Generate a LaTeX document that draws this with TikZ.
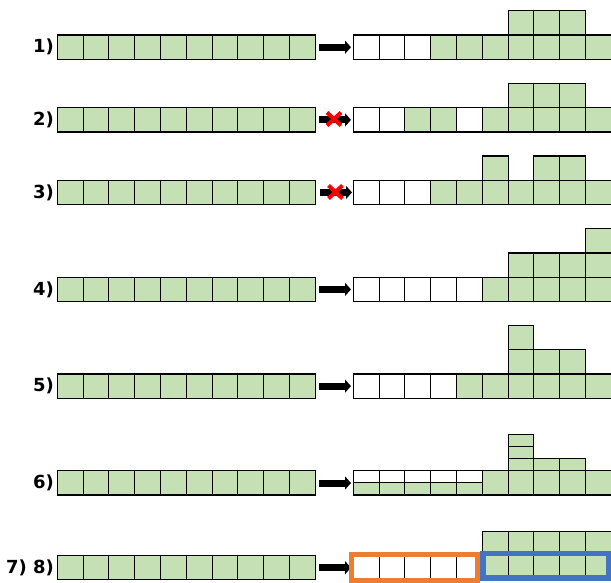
\documentclass[tikz,border=0pt]{standalone}
\usepackage{fontspec}
\newfontfamily\lblfont{DejaVu Sans}
\usetikzlibrary{arrows.meta}
\definecolor{cg}{HTML}{C5E0B4}
\definecolor{org}{HTML}{ED7D31}
\definecolor{blu}{HTML}{4472C4}
\definecolor{xred}{HTML}{FF0000}
\newcommand\Wc{25.8}
\newcommand\Hc{24.3}
% cell: x0, index, top, style
\newcommand\cellat[4]{\draw[#4] ({#1+#2*\Wc},{#3}) rectangle ++(\Wc,\Hc);}
% full left row at given top
\newcommand\leftrow[1]{\foreach \ii in {0,...,9} {\cellat{57.3}{\ii}{#1}{gcell}}}
% right row: top, list of styles
\newcommand\rightrow[2]{\foreach \ss [count=\ii from 0] in {#2} {\cellat{353.3}{\ii}{#1}{\ss}}}
\begin{document}
\begin{tikzpicture}[x=1pt,y=-1pt,
  cellbase/.style={draw=black,line width=1.1pt},
  gcell/.style={cellbase,fill=cg},
  wcell/.style={cellbase,fill=white},
  lbl/.style={font=\lblfont\bfseries\fontsize{18}{18}\selectfont,anchor=east,inner sep=0pt},
  blockarrow/.style={line width=7pt,-{Triangle[length=6pt,width=13pt]}},
  redx/.style={xred,line width=4pt}]
\useasboundingbox (0,0) rectangle (611,583);

% ---------- row 1 ----------
\leftrow{35}
\rightrow{35}{wcell,wcell,wcell,gcell,gcell,gcell,gcell,gcell,gcell,gcell}
\foreach \k in {6,7,8} {\cellat{353.3}{\k}{10.7}{gcell}}
\node[lbl] (lab1) at (54,47.2) {1)};
\coordinate (s1) at (319,47.2); \coordinate (e1) at (351,47.2);
\draw[blockarrow] (s1) -- (e1);

% ---------- row 2 ----------
\leftrow{107.7}
\rightrow{107.7}{wcell,wcell,gcell,gcell,wcell,gcell,gcell,gcell,gcell,gcell}
\foreach \k in {6,7,8} {\cellat{353.3}{\k}{83.4}{gcell}}
\node[lbl] (lab2) at (54,119.9) {2)};
\coordinate (s2) at (319,119.9); \coordinate (e2) at (351,119.9);
\draw[blockarrow] (s2) -- (e2);
\coordinate (x2) at (334,119);
\draw[redx] ([shift={(-7,-6.5)}]x2) -- ([shift={(7,6.5)}]x2);
\draw[redx] ([shift={(-7,6.5)}]x2) -- ([shift={(7,-6.5)}]x2);

% ---------- row 3 ----------
\leftrow{180.3}
\rightrow{180.3}{wcell,wcell,wcell,gcell,gcell,gcell,gcell,gcell,gcell,gcell}
\foreach \k in {5,7,8} {\cellat{353.3}{\k}{156}{gcell}}
\node[lbl] (lab3) at (54,192.4) {3)};
\coordinate (s3) at (320,192.4); \coordinate (e3) at (352,192.4);
\draw[blockarrow] (s3) -- (e3);
\coordinate (x3) at (335.5,192);
\draw[redx] ([shift={(-7,-6.5)}]x3) -- ([shift={(7,6.5)}]x3);
\draw[redx] ([shift={(-7,6.5)}]x3) -- ([shift={(7,-6.5)}]x3);

% ---------- row 4 ----------
\leftrow{277.3}
\rightrow{277.3}{wcell,wcell,wcell,wcell,wcell,gcell,gcell,gcell,gcell,gcell}
\foreach \k in {6,7,8,9} {\cellat{353.3}{\k}{253}{gcell}}
\cellat{353.3}{9}{228.7}{gcell}
\node[lbl] (lab4) at (54,289.4) {4)};
\coordinate (s4) at (319,289.4); \coordinate (e4) at (351,289.4);
\draw[blockarrow] (s4) -- (e4);

% ---------- row 5 ----------
\leftrow{374}
\rightrow{374}{wcell,wcell,wcell,wcell,gcell,gcell,gcell,gcell,gcell,gcell}
\foreach \k in {6,7,8} {\cellat{353.3}{\k}{349.7}{gcell}}
\cellat{353.3}{6}{325.4}{gcell}
\node[lbl] (lab5) at (54,386.1) {5)};
\coordinate (s5) at (319,386.1); \coordinate (e5) at (351,386.1);
\draw[blockarrow] (s5) -- (e5);

% ---------- row 6 ----------
\leftrow{470.7}
\foreach \k in {0,...,4} {
  \draw[wcell] ({353.3+\k*\Wc},470.7) rectangle ++(\Wc,12.15);
  \draw[gcell] ({353.3+\k*\Wc},482.85) rectangle ++(\Wc,12.15);
}
\foreach \k in {5,...,9} {\cellat{353.3}{\k}{470.7}{gcell}}
\foreach \k in {6,7,8} {\draw[gcell] ({353.3+\k*\Wc},458.55) rectangle ++(\Wc,12.15);}
\draw[gcell] ({353.3+6*\Wc},446.4) rectangle ++(\Wc,12.15);
\draw[gcell] ({353.3+6*\Wc},434.25) rectangle ++(\Wc,12.15);
\node[lbl] (lab6) at (54,483) {6)};
\coordinate (s6) at (319,483); \coordinate (e6) at (351,483);
\draw[blockarrow] (s6) -- (e6);

% ---------- row 7/8 ----------
\leftrow{555.5}
\rightrow{555.5}{wcell,wcell,wcell,wcell,wcell,gcell,gcell,gcell,gcell,gcell}
\foreach \k in {5,...,9} {\cellat{353.3}{\k}{531.2}{gcell}}
\node[lbl] (lab7) at (54,567.7) {7) 8)};
\coordinate (s7) at (319,567.7); \coordinate (e7) at (351,567.7);
\draw[blockarrow] (s7) -- (e7);
\draw[org,line width=5.5pt] (351.7,554.7) rectangle (477.5,580.5);
\draw[blu,line width=5.5pt] (482.8,553.3) rectangle (608.5,578.2);
\end{tikzpicture}
\end{document}
